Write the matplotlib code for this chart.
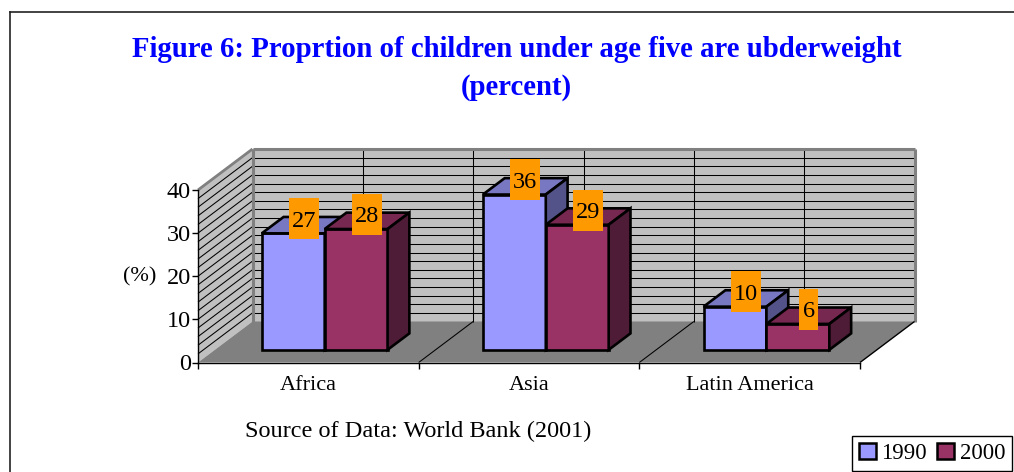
#!/usr/bin/env python3

import matplotlib
matplotlib.use("Agg")
import matplotlib.pyplot as plt
from matplotlib.patches import Patch

plt.rcParams['font.family'] = ['Liberation Serif', 'DejaVu Serif']

categories = ["Africa", "Asia", "Latin America"]
years = ["1990", "2000"]
values_1990 = [27, 36, 10]
values_2000 = [28, 29, 6]
y_ticks = [0, 10, 20, 30, 40]

W, H = 1014, 472

# colours of each series: front, top, side
colors_1990 = ("#9999FF", "#7777C2", "#53538A")
colors_2000 = ("#993366", "#772850", "#4F1C38")
WALL = "#C0C0C0"
FLOOR = "#808080"
ORANGE = "#FF9900"

# front plane of the fake 3d box, in pixels of the image
LEFT, RIGHT, TOP, BOTTOM = 198, 860, 190, 362.5
PX_X = (RIGHT - LEFT) / 3.0    # pixels for one category
PX_Y = (BOTTOM - TOP) / 40.0   # pixels for one percent
DX = 54.5 / PX_X               # depth shift, in data units
DY = 41.0 / PX_Y
BAR_WIDTH = 0.285
BAR_GAP = [0.2125, 0.2145, 0.2145]  # where each group starts inside its category


def project(x, y, d=0.0):
    # d = 0 is the front of the box, d = 1 the back wall
    return x + d * DX, y + d * DY


def poly(ax, points, face, edge="none", lw=0, z=1):
    xs, ys = zip(*[project(*p) for p in points])
    ax.fill(xs, ys, facecolor=face, edgecolor=edge, linewidth=lw,
            joinstyle="miter", clip_on=False, zorder=z)


def line(ax, p0, p1, color="black", lw=0.75, z=2):
    x0, y0 = project(*p0)
    x1, y1 = project(*p1)
    ax.plot([x0, x1], [y0, y1], color=color, lw=lw, clip_on=False, zorder=z,
            solid_capstyle="butt")


def draw_bar(ax, x0, x1, value, colors, z):
    d0, d1 = 0.31, 0.71
    poly(ax, [(x0, 0, d0), (x1, 0, d0), (x1, value, d0), (x0, value, d0)], colors[0], "black", 1.9, z)
    poly(ax, [(x0, value, d0), (x1, value, d0), (x1, value, d1), (x0, value, d1)], colors[1], "black", 1.9, z)
    poly(ax, [(x1, 0, d0), (x1, 0, d1), (x1, value, d1), (x1, value, d0)], colors[2], "black", 1.9, z)


def draw_label(ax, xc, value):
    # orange box over the middle of the bar top
    cx, cy = project(xc, value, 0.51)
    cy += 6.5 / PX_Y
    text = str(value)
    half_w = (8 + 11 * len(text)) / 2.0 / PX_X
    half_h = 20.5 / PX_Y
    ax.fill([cx - half_w, cx + half_w, cx + half_w, cx - half_w],
            [cy - half_h, cy - half_h, cy + half_h, cy + half_h],
            color=ORANGE, lw=0, clip_on=False, zorder=20)
    ax.text(cx, cy, text, ha="center", va="center_baseline", fontsize=17.5,
            color="black", zorder=21)


fig = plt.figure(figsize=(W / 100, H / 100), dpi=100)
ax = fig.add_axes([LEFT / W, 1 - BOTTOM / H, (RIGHT - LEFT) / W, (BOTTOM - TOP) / H])
ax.patch.set_visible(False)
ax.set_xlim(0, 3)
ax.set_ylim(0, 40)

# walls and floor
poly(ax, [(0, 0, 1), (3, 0, 1), (3, 40, 1), (0, 40, 1)], WALL)
poly(ax, [(0, 0, 0), (0, 0, 1), (0, 40, 1), (0, 40, 0)], WALL)
poly(ax, [(0, 0, 0), (3, 0, 0), (3, 0, 1), (0, 0, 1)], FLOOR)

# grid
for v in range(2, 40, 2):
    line(ax, (0, v, 1), (3, v, 1))
    line(ax, (0, v, 0), (0, v, 1))
for k in range(1, 6):
    line(ax, (k / 2, 0, 1), (k / 2, 40, 1))
for k in (1, 2):
    line(ax, (k, 0, 0), (k, 0, 1))

# wall borders
line(ax, (0, 40, 0), (0, 40, 1), FLOOR, 2, 3)
line(ax, (0, 40, 1), (3, 40, 1), FLOOR, 2.2, 3)
line(ax, (0, 0, 1), (0, 40, 1), FLOOR, 2.2, 3)
line(ax, (3, 0, 1), (3, 40, 1), FLOOR, 2.2, 3)
line(ax, (3, 0, 0), (3, 0, 1), "black", 1.0, 4)

# bars
for i, (a, b) in enumerate(zip(values_1990, values_2000)):
    x0 = i + BAR_GAP[i]
    mid = x0 + BAR_WIDTH
    end = mid + BAR_WIDTH
    draw_bar(ax, x0, mid, a, colors_1990, 6 + i)
    draw_bar(ax, mid, end, b, colors_2000, 7 + i)
    draw_label(ax, (x0 + mid) / 2, a)
    draw_label(ax, (mid + end) / 2, b)

# axes
for side in ("top", "right"):
    ax.spines[side].set_visible(False)
for side in ("left", "bottom"):
    ax.spines[side].set_linewidth(1.0)
    ax.spines[side].set_zorder(5)
ax.set_yticks(y_ticks)
ax.set_xticks([0, 1, 2, 3])
ax.set_xticklabels([])
ax.set_xticks([0.5, 1.5, 2.5], minor=True)
ax.set_xticklabels(categories, minor=True)
ax.tick_params(axis="x", which="major", length=4, width=1.0)
ax.tick_params(axis="x", which="minor", length=0, pad=10, labelsize=16)
ax.tick_params(axis="y", length=4.5, width=1.0, pad=0.5, labelsize=17.5)

# frame around the whole figure, only left and top are inside the image
fig.add_artist(plt.Line2D([9.5 / W, 9.5 / W], [0, 1 - 11.5 / H], color="#222222", lw=1.2))
fig.add_artist(plt.Line2D([9.5 / W, 1], [1 - 11.5 / H, 1 - 11.5 / H], color="#222222", lw=1.2))

fig.text(516.5 / W, 1 - 57 / H, "Figure 6: Proprtion of children under age five are ubderweight",
         ha="center", va="baseline", fontsize=20.7, fontweight="bold", color="#0000FF")
fig.text(516.5 / W, 1 - 95 / H, "(percent)",
         ha="center", va="baseline", fontsize=20.7, fontweight="bold", color="#0000FF")
fig.text(140 / W, 1 - 277 / H, "(%)", ha="center", va="center", fontsize=16)
fig.text(245 / W, 1 - 437 / H, "Source of Data: World Bank (2001)", ha="left", va="baseline", fontsize=17.5)

handles = [Patch(facecolor=colors_1990[0], edgecolor="black", linewidth=1.8, label=years[0]),
           Patch(facecolor=colors_2000[0], edgecolor="black", linewidth=1.8, label=years[1])]
fig.legend(handles=handles, ncol=2, loc="lower right",
           bbox_to_anchor=(1012 / W, 1 - 471 / H), fontsize=16.5, frameon=True, fancybox=False,
           framealpha=1, edgecolor="black", borderpad=0.3, handlelength=0.72, handleheight=0.72,
           handletextpad=0.25, columnspacing=0.45, borderaxespad=0)

fig.savefig("out.png", dpi=100)
plt.close(fig)
